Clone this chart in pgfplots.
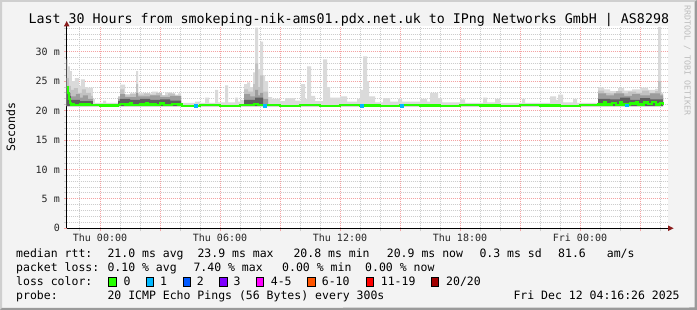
\documentclass[border=0pt]{standalone}
\usepackage{fontspec}
\setmonofont{DejaVu Sans Mono}
\usepackage{pgfplots}
\pgfplotsset{compat=1.18}
\definecolor{bgc}{HTML}{F3F3F3}
\definecolor{shadeA}{HTML}{CFCFCF}
\definecolor{shadeB}{HTML}{9A9A9A}
\definecolor{majgrid}{HTML}{F4A3A3}
\definecolor{mingrid}{HTML}{CDCDCD}
\definecolor{arrowc}{HTML}{8A1C1C}
\definecolor{loss0}{HTML}{26FF00}
\definecolor{loss1}{HTML}{00B8FF}
\definecolor{loss2}{HTML}{0059FF}
\definecolor{loss3}{HTML}{7E00FF}
\definecolor{loss45}{HTML}{FF00FF}
\definecolor{loss610}{HTML}{FF5500}
\definecolor{loss1119}{HTML}{FF0000}
\definecolor{loss20}{HTML}{A10000}
\definecolor{smokeL}{HTML}{DADADA}
\definecolor{smokeLM}{HTML}{C2C2C2}
\definecolor{smokeM}{HTML}{9C9C9C}
\definecolor{smokeD}{HTML}{5E5E5E}
\definecolor{rrdc}{HTML}{BDBDBD}

\pgfplotstableread{
h v
-1.665 28.7
-1.6 27.5
-1.5 26.7
-1.4 25.0
-1.25 25.5
-1.05 24.2
-0.95 25.3
-0.75 24.0
-0.6 23.9
-0.35 22.0
-0.25 21.3
0.15 21.7
0.3 21.3
0.9 22.2
1.0 24.4
1.25 22.8
1.5 23.0
1.8 26.7
1.9 23.0
2.25 22.9
2.6 23.2
2.9 22.6
3.25 23.1
3.6 22.7
3.9 22.9
4.05 21.3
4.75 21.5
5.0 21.3
5.25 22.2
5.45 21.3
5.75 23.5
5.9 21.4
6.25 24.3
6.4 21.4
6.75 22.2
6.9 21.5
7.0 21.8
7.2 24.5
7.35 24.8
7.5 24.0
7.65 26.5
7.75 34.1
7.9 27.0
8.0 31.7
8.15 26.0
8.25 25.0
8.4 22.3
8.6 22.0
9.0 21.6
9.25 22.1
9.75 21.7
10.05 24.5
10.25 22.0
10.35 27.5
10.55 22.5
10.75 21.6
11.15 28.7
11.35 24.0
11.5 22.2
12.0 22.4
12.35 21.5
12.85 22.0
13.0 23.5
13.15 29.2
13.35 25.0
13.45 22.4
13.75 21.4
14.15 22.1
14.5 21.5
14.9 22.0
15.1 21.5
16.0 22.0
16.35 21.5
16.5 23.0
16.9 22.1
17.1 21.4
18.0 21.9
18.25 21.3
19.15 22.2
19.35 21.4
19.75 22.0
20.0 21.3
21.1 22.0
21.25 21.3
22.5 22.4
22.8 21.8
22.9 22.7
23.15 21.4
23.65 22.0
23.85 21.3
24.9 24.0
25.2 23.6
25.5 23.3
25.9 23.8
26.2 23.4
26.6 23.6
27.0 23.9
27.4 23.5
27.75 23.7
27.9 34.2
28.05 23.0
28.15 23.0
}\smokelight

\pgfplotstableread{
h v
-1.665 25.5
-1.55 24.2
-1.45 23.5
-1.3 23.8
-1.1 23.0
-0.9 23.6
-0.7 23.0
-0.45 22.5
-0.35 20.9
0.9 22.4
1.0 23.6
1.2 22.6
1.5 22.8
1.8 24.5
1.9 22.7
2.2 22.9
2.5 22.7
2.8 23.0
3.1 22.6
3.4 22.9
3.75 22.5
4.05 20.9
7.2 23.6
7.4 23.2
7.65 24.5
7.75 28.0
7.9 24.0
8.0 26.0
8.15 23.2
8.4 20.9
24.9 23.4
25.2 23.0
25.5 22.9
25.8 23.3
26.1 22.9
26.4 23.2
26.8 23.0
27.1 23.4
27.45 23.0
27.75 23.3
27.9 25.0
28.05 22.8
28.15 22.8
}\smokelm

\pgfplotstableread{
h v
-1.665 24.0
-1.55 23.0
-1.45 22.4
-1.2 22.8
-1.0 22.2
-0.85 22.6
-0.6 22.0
-0.35 20.9
0.9 22.0
1.0 22.8
1.25 22.3
1.8 23.0
1.9 22.4
2.5 22.6
3.0 22.3
3.5 22.5
4.05 20.9
7.2 22.8
7.5 22.4
7.75 23.5
7.9 22.6
8.0 23.0
8.15 22.0
8.4 20.9
24.9 22.9
25.3 22.6
25.7 22.9
26.2 22.5
26.6 22.8
27.0 22.6
27.5 22.9
28.0 22.6
28.15 22.6
}\smokemid

\pgfplotstableread{
h v
-1.665 23.8
-1.55 22.5
-1.45 21.8
-1.0 21.6
-0.35 20.9
0.9 21.6
1.0 22.0
1.5 21.8
2.0 22.0
2.5 21.8
3.0 21.9
3.5 21.7
4.05 20.9
7.2 21.8
7.75 22.2
8.15 20.9
24.9 22.0
25.5 21.9
26.0 22.2
26.5 21.8
27.0 22.1
27.5 21.9
28.15 21.9
}\smokedark

\pgfplotstableread{
h v
-1.665 23.9
-1.6 23.0
-1.55 22.0
-1.5 21.3
-1.45 21.0
-1.3 20.9
-1.0 21.0
-0.5 20.9
0.0 20.85
0.9 20.9
1.0 21.1
1.25 21.0
1.5 21.3
1.6 20.9
2.0 21.0
2.3 21.3
2.4 21.0
2.8 20.9
3.0 21.2
3.2 20.9
3.6 21.1
3.9 21.0
4.1 20.8
5.0 20.9
6.0 20.8
7.0 20.9
7.7 21.1
7.9 20.9
9.0 20.8
10.0 20.9
11.0 20.8
12.0 20.9
13.0 20.85
14.0 20.8
15.0 20.9
16.0 20.85
17.0 20.8
18.0 20.9
19.0 20.85
20.0 20.8
21.0 20.9
22.0 20.85
23.0 20.8
24.0 20.9
24.9 21.0
25.2 21.4
25.3 21.0
25.6 21.3
25.8 20.9
26.0 21.5
26.1 21.0
26.5 21.2
26.8 21.5
26.9 21.0
27.2 21.4
27.4 21.1
27.6 21.5
27.8 21.0
28.0 21.3
28.15 21.0
}\median

\begin{document}
\begin{tikzpicture}
\fill[bgc] (0,0) rectangle (697pt,310pt);
\fill[shadeA] (0,0) -- (0,310pt) -- (697pt,310pt) -- (695pt,308pt) -- (2pt,308pt) -- (2pt,2pt) -- cycle;
\fill[shadeB] (697pt,310pt) -- (697pt,0) -- (0,0) -- (2pt,2pt) -- (694.5pt,2.5pt) -- (694.5pt,308pt) -- cycle;
\begin{axis}[
  at={(66.7pt,81.7pt)}, anchor=south west,
  scale only axis, width=601.3pt, height=201.9pt,
  xmin=-1.665, xmax=28.4, ymin=0, ymax=34.3,
  axis background/.style={fill=white},
  axis x line*=bottom, axis y line*=left,
  axis line style={black, line width=1pt},
  xtick={0,3,...,27},
  xticklabels={Thu 00:00,,Thu 06:00,,Thu 12:00,,Thu 18:00,,Fri 00:00,},
  minor xtick={-1,1,2,4,5,7,8,10,11,13,14,16,17,19,20,22,23,25,26,28},
  ytick={0,5,...,30},
  yticklabels={0\hspace{12.04pt},5 m,10 m,15 m,20 m,25 m,30 m},
  minor ytick={1,2,3,4,6,7,8,9,11,12,13,14,16,17,18,19,21,22,23,24,26,27,28,29,31,32,33,34},
  grid=both,
  major grid style={draw=majgrid, line width=1pt, dash pattern=on 1pt off 1pt},
  minor grid style={draw=mingrid, line width=1pt, dash pattern=on 1pt off 1pt},
  tick align=outside, major tick length=3pt, minor tick length=3pt,
  major tick style={draw=majgrid, line width=1pt},
  minor tick style={draw=mingrid, line width=1pt},
  ticklabel style={font=\fontsize{10}{10}\selectfont\ttfamily, text=black!85},
  yticklabel style={anchor=east, inner sep=0pt, xshift=-3.7pt},
  xticklabel style={anchor=base, inner sep=0pt, yshift=-10.3pt},
]
\addplot[fill=smokeL, draw=none, const plot] table[x=h,y=v] {\smokelight} -- (axis cs:28.15,20.75) -- (axis cs:-1.665,20.75) -- cycle;
\addplot[fill=smokeLM, draw=none, const plot] table[x=h,y=v] {\smokelm} -- (axis cs:28.15,20.75) -- (axis cs:-1.665,20.75) -- cycle;
\addplot[fill=smokeM, draw=none, const plot] table[x=h,y=v] {\smokemid} -- (axis cs:28.15,20.75) -- (axis cs:-1.665,20.75) -- cycle;
\addplot[fill=smokeD, draw=none, const plot] table[x=h,y=v] {\smokedark} -- (axis cs:28.15,20.75) -- (axis cs:-1.665,20.75) -- cycle;
\addplot[loss0, line width=2.4pt, const plot] table[x=h,y=v] {\median};
\addplot[only marks, mark=square*, mark size=1.4pt, color=loss1] coordinates {(4.8,20.85) (8.25,20.85) (13.1,20.85) (15.1,20.85) (26.35,20.9)};
\end{axis}
% axis arrows
\fill[arrowc] (668pt,78.9pt) -- (673.6pt,81.7pt) -- (668pt,84.5pt) -- cycle;
\fill[arrowc] (63.9pt,283.6pt) -- (66.7pt,289pt) -- (69.5pt,283.6pt) -- cycle;
% title
\node[anchor=base west, inner sep=0pt, font=\fontsize{13.3}{14}\selectfont\ttfamily] at (28.3pt,286pt) {Last 30 Hours from smokeping-nik-ams01.pdx.net.uk to IPng Networks GmbH | AS8298};
% y label
\node[rotate=90, inner sep=0pt, font=\fontsize{11.5}{12}\selectfont\ttfamily] at (10.8pt,183pt) {Seconds};
% rrdtool credit
\node[rotate=-90, anchor=base west, inner sep=0pt, text=rrdc, font=\fontsize{8.3}{9}\selectfont\ttfamily] at (684.5pt,305pt) {RRDTOOL / TOBI OETIKER};
% legend
\begin{scope}[every node/.style={anchor=base west, inner sep=0pt, font=\fontsize{11.5}{12}\selectfont\ttfamily}]
\node at (16pt,52.5pt) {median rtt:};
\node at (107.3pt,52.5pt) {21.0 ms avg};
\node at (197.3pt,52.5pt) {23.9 ms max};
\node at (293.3pt,52.5pt) {20.8 ms min};
\node at (386.7pt,52.5pt) {20.9 ms now};
\node at (479.3pt,52.5pt) {0.3 ms sd};
\node at (558pt,52.5pt) {81.6};
\node at (606.7pt,52.5pt) {am/s};
\node at (16pt,38.3pt) {packet loss:};
\node at (107.3pt,38.3pt) {0.10 \% avg};
\node at (193.3pt,38.3pt) {7.40 \% max};
\node at (282pt,38.3pt) {0.00 \% min};
\node at (365pt,38.3pt) {0.00 \% now};
\node at (16pt,24.2pt) {loss color:};
\node at (123.3pt,24.2pt) {0};
\node at (160pt,24.2pt) {1};
\node at (196.7pt,24.2pt) {2};
\node at (233.3pt,24.2pt) {3};
\node at (270.7pt,24.2pt) {4-5};
\node at (321.7pt,24.2pt) {6-10};
\node at (380.7pt,24.2pt) {11-19};
\node at (446pt,24.2pt) {20/20};
\node at (16pt,10pt) {probe:};
\node at (107.3pt,10pt) {20 ICMP Echo Pings (56 Bytes) every 300s};
\node at (513.3pt,10pt) {Fri Dec 12 04:16:26 2025};
\end{scope}
\begin{scope}[line width=0.8pt]
\filldraw[fill=loss0, draw=black] (108.5pt,23.5pt) rectangle +(7.5pt,9.5pt);
\filldraw[fill=loss1, draw=black] (145.9pt,23.5pt) rectangle +(7.5pt,9.5pt);
\filldraw[fill=loss2, draw=black] (182.9pt,23.5pt) rectangle +(7.5pt,9.5pt);
\filldraw[fill=loss3, draw=black] (219.5pt,23.5pt) rectangle +(7.5pt,9.5pt);
\filldraw[fill=loss45, draw=black] (256.2pt,23.5pt) rectangle +(7.5pt,9.5pt);
\filldraw[fill=loss610, draw=black] (307.5pt,23.5pt) rectangle +(7.5pt,9.5pt);
\filldraw[fill=loss1119, draw=black] (365.9pt,23.5pt) rectangle +(7.5pt,9.5pt);
\filldraw[fill=loss20, draw=black] (430.9pt,23.5pt) rectangle +(7.5pt,9.5pt);
\end{scope}
\pgfresetboundingbox
\useasboundingbox (0,0) rectangle (697pt,310pt);
\end{tikzpicture}
\end{document}
